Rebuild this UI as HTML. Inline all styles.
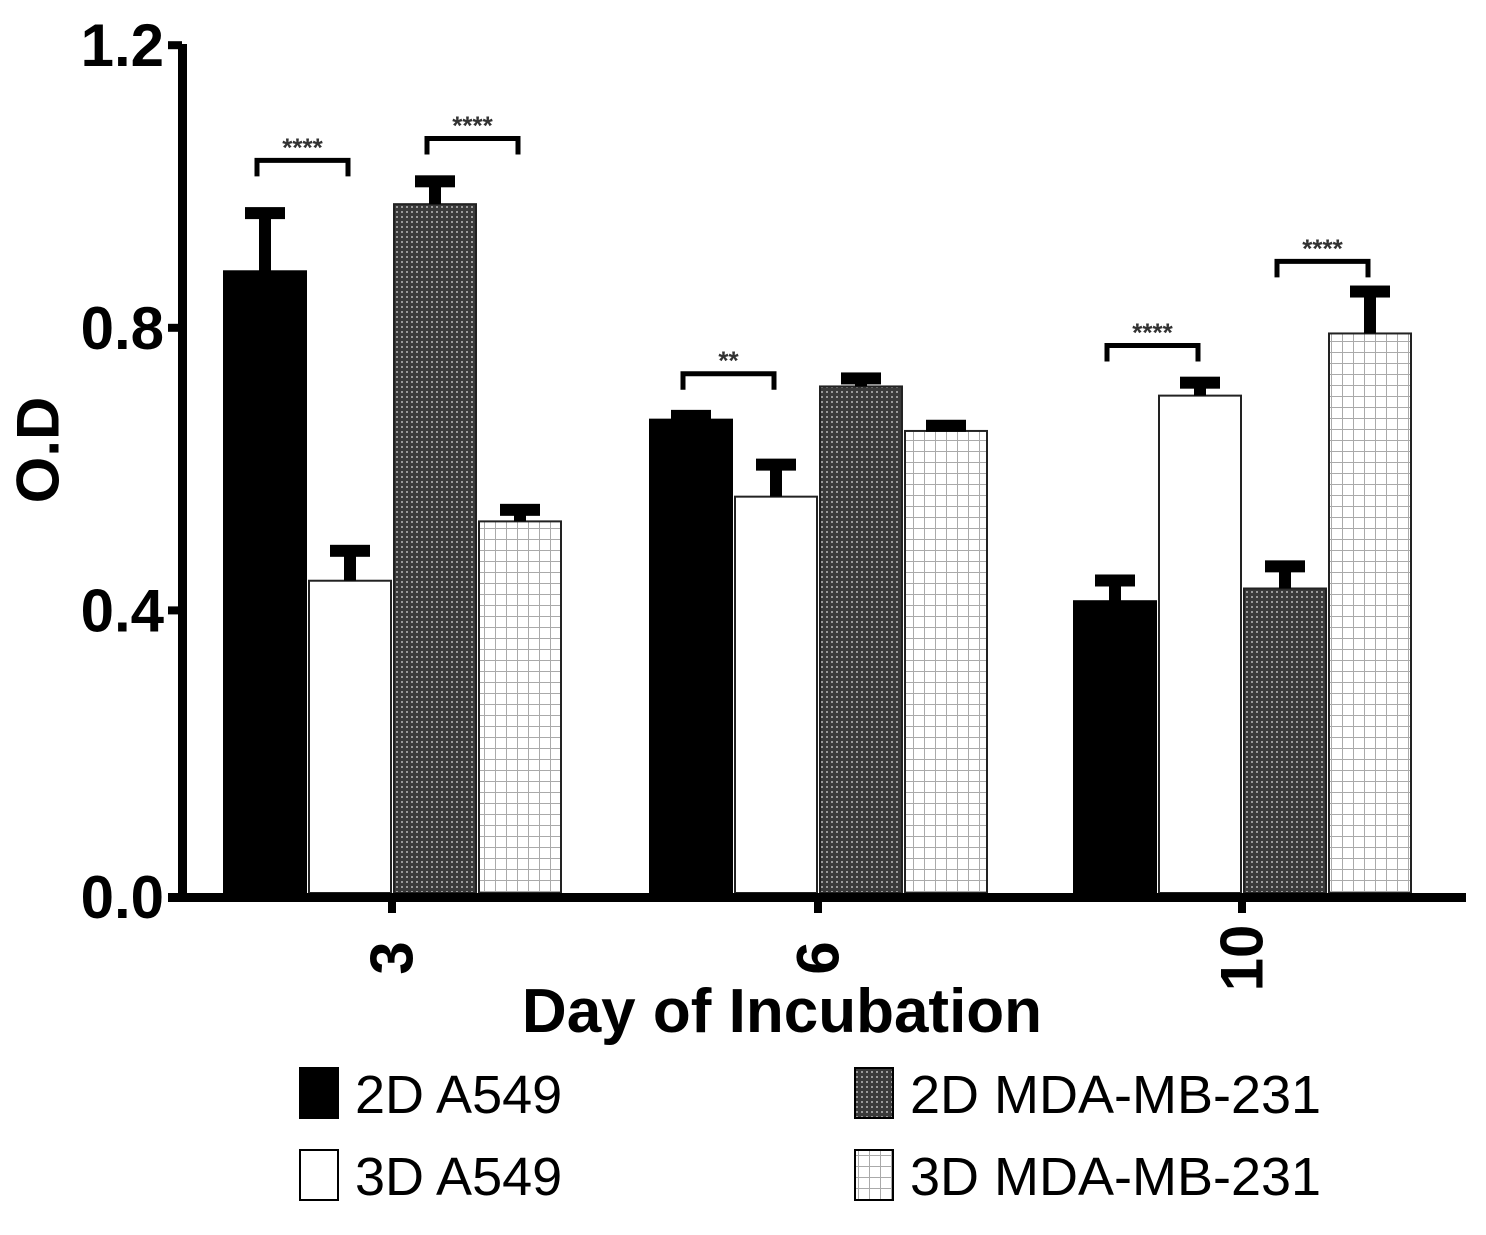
<!DOCTYPE html>
<html><head><meta charset="utf-8"><style>
html,body{margin:0;padding:0;background:#fff;}
svg{display:block;font-family:"Liberation Sans",Arial,sans-serif;}
</style></head><body>
<svg id="chart" width="1486" height="1235" viewBox="0 0 1486 1235">
<defs>
<pattern id="dark" width="5" height="5" patternUnits="userSpaceOnUse">
<rect width="5" height="5" fill="#3a3a3a"/><rect x="1" y="1" width="2" height="2" fill="#9a9a9a"/>
</pattern>
<pattern id="grid" width="11" height="11" patternUnits="userSpaceOnUse">
<rect width="11" height="11" fill="#fff"/><path d="M0 0.5H11M0.5 0V11" stroke="#aaa" stroke-width="1"/>
</pattern>
</defs>
<g id="plot"></g>
<text x="38" y="450" font-size="60" font-weight="bold" text-anchor="middle" transform="rotate(-90 38 450)" dominant-baseline="central">O.D</text>
<text x="782" y="1032" font-size="62" font-weight="bold" text-anchor="middle">Day of Incubation</text>
<g id="legend"></g>
</svg>
<script>
const categories = ["3", "6", "10"];
const seriesNames = ["2D A549", "3D A549", "2D MDA-MB-231", "3D MDA-MB-231"];
const means2DA549 = [0.88, 0.67, 0.413];
const means3DA549 = [0.442, 0.561, 0.704];
const means2DMDA = [0.975, 0.717, 0.431];
const means3DMDA = [0.526, 0.654, 0.792];
const err2DA549 = [0.088, 0.011, 0.035];
const err3DA549 = [0.048, 0.051, 0.024];
const err2DMDA = [0.038, 0.017, 0.037];
const err3DMDA = [0.022, 0.013, 0.065];
const yTicks = [0, 0.4, 0.8, 1.2];
const yTickLabels = ["0.0", "0.4", "0.8", "1.2"];
const sigGroup = [0, 0, 1, 2, 2];
const sigFrom = [0, 2, 0, 0, 2];
const sigY = [1.037, 1.068, 0.735, 0.775, 0.894];
const sigLabel = ["****", "****", "**", "****", "****"];

const NS = "http://www.w3.org/2000/svg";
const plot = document.getElementById("plot");
const fills = ["#000", "#fff", "url(#dark)", "url(#grid)"];
const means = [means2DA549, means3DA549, means2DMDA, means3DMDA];
const errs = [err2DA549, err3DA549, err2DMDA, err3DMDA];
const y0 = 893, yScale = 706.5;
function yPos(v){ return y0 - v * yScale; }
const groupStart = [224, 650, 1074], barStep = 85, barW = 82;
function xPos(g, s){ return groupStart[g] + s * barStep; }
function mk(tag, attrs){ const e = document.createElementNS(NS, tag); for (const k in attrs) e.setAttribute(k, attrs[k]); return e; }

for (let g = 0; g < categories.length; g++) {
  for (let s = 0; s < 4; s++) {
    const x = xPos(g, s), top = yPos(means[s][g]);
    const r = mk("rect", {x: x, y: top, width: barW, height: y0 - top, fill: fills[s], stroke: s === 0 ? "#000" : "#222", "stroke-width": 2});
    
    
    plot.appendChild(r);
    const cx = x + barW / 2, et = yPos(means[s][g] + errs[s][g]);
    const eb = mk("g", {});
    
    
    eb.appendChild(mk("rect", {x: cx - 6, y: et, width: 12, height: top - et, fill: "#000"}));
    eb.appendChild(mk("rect", {x: cx - 20, y: et - 2, width: 40, height: 12, fill: "#000"}));
    plot.appendChild(eb);
  }
  const tk = mk("rect", {x: xPos(g, 2) - 6, y: 898, width: 8, height: 15, fill: "#000"});
  
  
  plot.appendChild(tk);
  const tx = xPos(g, 2) - 2, ty = 958;
  const lt = mk("text", {x: tx, y: ty, "font-size": 60, "font-weight": "bold", "text-anchor": "middle", "dominant-baseline": "central", transform: "rotate(-90 " + tx + " " + ty + ")"});
  lt.textContent = categories[g];
  
  
  plot.appendChild(lt);
}
// axes
const ax = mk("rect", {x: 178, y: 44, width: 9, height: 858, fill: "#000"});


plot.appendChild(ax);
const axx = mk("rect", {x: 168, y: 893, width: 1298, height: 9, fill: "#000"});


plot.appendChild(axx);
yTicks.forEach((v, i) => {
  const y = yPos(v) + (i === 0 ? 4 : 0);
  const t = mk("rect", {x: 168, y: y - 4, width: 14, height: 8, fill: "#000"});
  
  
  plot.appendChild(t);
  const l = mk("text", {x: 164, y: y + 21, "font-size": 60, "font-weight": "bold", "text-anchor": "end"});
  l.textContent = yTickLabels[i];
  
  
  plot.appendChild(l);
});
// significance brackets
for (let i = 0; i < sigGroup.length; i++) {
  const x1 = xPos(sigGroup[i], sigFrom[i]) + barW / 2 - 8;
  const x2 = xPos(sigGroup[i], sigFrom[i] + 1) + barW / 2 - 2;
  const y = yPos(sigY[i]);
  const b = mk("path", {d: "M" + x1 + " " + (y + 16) + "V" + y + "H" + x2 + "V" + (y + 16), fill: "none", stroke: "#000", "stroke-width": 5});
  
  
  plot.appendChild(b);
  const st = mk("text", {x: (x1 + x2) / 2, y: y - 4, "font-size": 26, "font-weight": "bold", "text-anchor": "middle", fill: "#333"});
  st.textContent = sigLabel[i];
  
  
  plot.appendChild(st);
}
// legend
const leg = document.getElementById("legend");
const lx = [300, 300, 855, 855], lty = [1068, 1150, 1068, 1150], legOrder = [0, 1, 2, 3];
legOrder.forEach((s, i) => {
  const e = mk("g", {});
  
  
  e.appendChild(mk("rect", {x: lx[i], y: lty[i], width: 38, height: 50, fill: fills[s], stroke: "#000", "stroke-width": 2}));
  const t = mk("text", {x: lx[i] + 55, y: lty[i] + 45, "font-size": 54});
  t.textContent = seriesNames[s];
  e.appendChild(t);
  leg.appendChild(e);
});
</script>
</body></html>
